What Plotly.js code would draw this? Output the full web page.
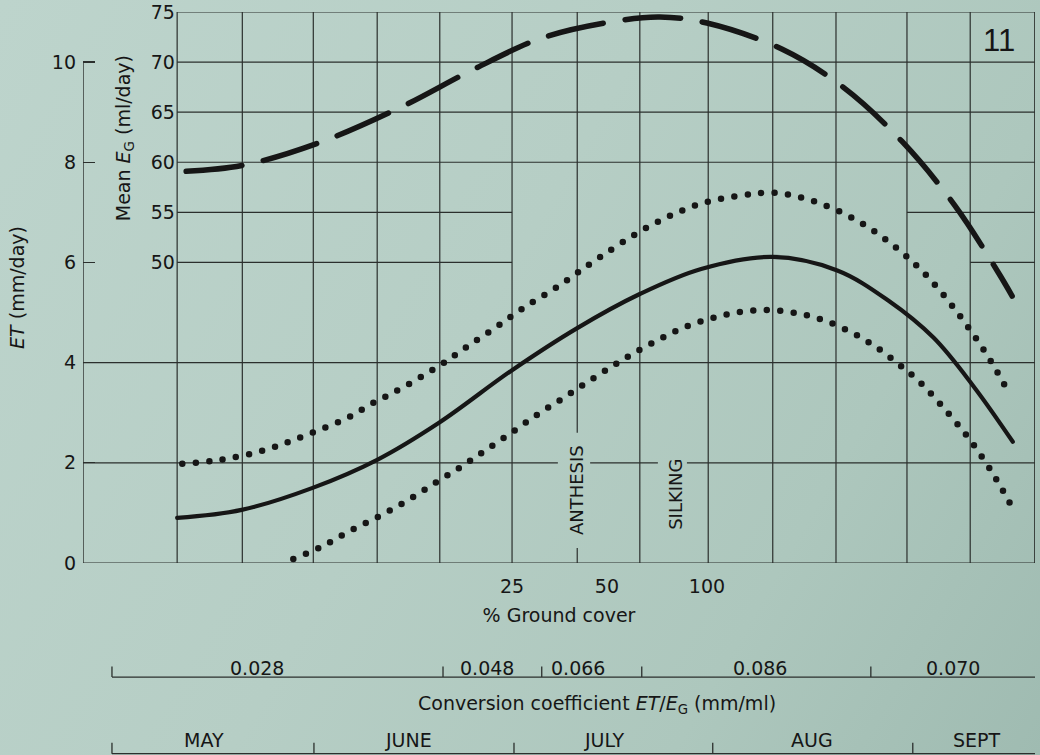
<!DOCTYPE html>
<html>
<head>
<meta charset="utf-8">
<script src="https://cdn.plot.ly/plotly-3.0.1.min.js"></script>
<style>
  html, body { margin: 0; padding: 0; }
  body { width: 1040px; height: 755px; overflow: hidden;
         background: linear-gradient(120deg, #bdd4cc 0%, #b6cec5 45%, #adc7bd 75%, #9fbbb1 100%); }
  #chart { width: 1040px; height: 755px; }
  .scatterlayer .js-line { stroke-linecap: round; stroke-linejoin: round; }
</style>
</head>
<body>
<div id="chart"></div>
<script>
// ---- x axis: days after 1 May ----
const gridDay = [9.8, 19.9, 30.9, 40.8, 50.5, 61.7, 71.8, 81.5, 92.1, 102.1, 111.9, 122.9, 132.7, 142.7];

// ground cover (%) labels
const coverLabels = ['25', '50', '100'];
const coverDay = [61.7, 76.4, 91.9];

// conversion coefficient ET/EG periods
const convValues = ['0.028', '0.048', '0.066', '0.086', '0.070'];
const convStartDay = [-0.3, 51.0, 66.3, 81.8, 117.3];
const convLabelDay = [22.2, 57.8, 71.9, 100.1, 130.0];

// months
const monthNames = ['MAY', 'JUNE', 'JULY', 'AUG', 'SEPT'];
const monthStartDay = [-0.3, 31.0, 62.0, 92.8, 123.8];
const monthLabelDay = [14.0, 45.6, 76.1, 108.2, 133.7];

// stages
const stageNames = ['ANTHESIS', 'SILKING'];
const stageDay = [71.8, 87.1];
const stageY = [1.46, 1.38];

// y ticks
const etTicks = [0, 2, 4, 6, 8, 10];
const egTicks = [50, 55, 60, 65, 70, 75];

// Mean EG (ml/day) - long dashed curve
const egDay = [11.2, 20.0, 32.0, 44.8, 55.5, 66.3, 76.9, 84.6, 91.9, 103.5, 113.0, 122.1, 130.3, 137.0, 139.2];
const egVal = [59.1, 59.7, 62.0, 65.6, 69.2, 72.4, 74.0, 74.5, 73.9, 71.3, 67.5, 62.1, 55.7, 49.05, 46.65];

// ET (mm/day) - solid mean curve
const etDay = [9.8, 19.8, 30.8, 40.8, 50.5, 61.7, 71.8, 81.5, 91.0, 102.1, 112.1, 120.0, 127.0, 133.2, 139.3];
const etVal = [0.90, 1.06, 1.50, 2.06, 2.81, 3.85, 4.69, 5.37, 5.87, 6.11, 5.84, 5.24, 4.50, 3.53, 2.42];

// ET upper bound - dotted
const upDay = [10.6, 16.6, 23.0, 27.1, 31.5, 36.1, 40.1, 44.3, 50.8, 54.6, 58.8, 63.2, 68.9, 74.9, 82.8, 90.4, 97.8, 102.4, 108.3, 114.7, 120.3, 125.7, 131.0, 135.8, 138.7];
const upVal = [1.98, 2.06, 2.24, 2.42, 2.64, 2.89, 3.19, 3.47, 3.97, 4.31, 4.67, 5.07, 5.53, 6.07, 6.71, 7.15, 7.35, 7.39, 7.23, 6.87, 6.39, 5.77, 4.95, 4.05, 3.39];

// ET lower bound - dotted
const loDay = [27.8, 32.1, 36.3, 40.9, 45.4, 49.8, 53.8, 57.7, 61.8, 65.7, 69.6, 73.6, 77.5, 81.1, 84.9, 88.5, 92.7, 96.9, 101.2, 105.7, 109.9, 114.2, 117.9, 121.4, 124.9, 129.3, 133.0, 136.7, 138.9];
const loVal = [0.08, 0.32, 0.62, 0.92, 1.24, 1.60, 1.92, 2.26, 2.62, 2.97, 3.29, 3.63, 3.95, 4.23, 4.49, 4.71, 4.89, 5.01, 5.05, 4.99, 4.85, 4.61, 4.33, 3.99, 3.61, 2.99, 2.40, 1.68, 1.18];

// ---------------- drawing ----------------
const INK = '#161616';
const GRID = '#2b2f2d';
const FONT = 'DejaVu Sans, Verdana, sans-serif';
const X0 = -4.79, X1 = 142.74;

const traces = [
  { x: egDay, y: egVal, yaxis: 'y2', mode: 'lines', hoverinfo: 'skip',
    line: { color: INK, width: 5.5, dash: '56px,22px', shape: 'spline', smoothing: 1 } },
  { x: etDay, y: etVal, mode: 'lines', hoverinfo: 'skip',
    line: { color: INK, width: 4.2, shape: 'spline', smoothing: 1 } },
  { x: upDay, y: upVal, mode: 'lines', hoverinfo: 'skip',
    line: { color: INK, width: 6.5, dash: '0px,13.5px', shape: 'spline', smoothing: 1 } },
  { x: loDay, y: loVal, mode: 'lines', hoverinfo: 'skip',
    line: { color: INK, width: 6.5, dash: '0px,13.5px', shape: 'spline', smoothing: 1 } }
];

const shapes = [];
function seg(x0, y0, x1, y1, xref, yref, w) {
  shapes.push({ type: 'line', xref: xref, yref: yref, x0: x0, y0: y0, x1: x1, y1: y1,
    layer: 'below', line: { color: GRID, width: w || 1.2 } });
}
// vertical grid lines (the anthesis line is broken around its label)
gridDay.forEach((d, i) => {
  if (i === 6) { seg(d, 0, d, 0.30, 'x', 'y'); seg(d, 2.6, d, 11, 'x', 'y'); }
  else seg(d, 0, d, 11, 'x', 'y');
});
// horizontal ET grid lines across whole width
[0, 4].forEach(v => seg(X0, v, X1, v, 'x', 'y'));
seg(X0, 2, 68.8, 2, 'x', 'y');
seg(73.8, 2, 84.3, 2, 'x', 'y');
seg(88.8, 2, X1, 2, 'x', 'y');
// upper grid (EG region) starting at first grid column
[8, 9, 10, 11].forEach(v => seg(gridDay[0], v, X1, v, 'x', 'y'));
seg(gridDay[0], 7, gridDay[5], 7, 'x', 'y');
seg(gridDay[11], 7, X1, 7, 'x', 'y');
seg(gridDay[0], 6, gridDay[5], 6, 'x', 'y');
seg(gridDay[12], 6, X1, 6, 'x', 'y');
// ET axis line
seg(X0, 0, X0, 10, 'x', 'y', 1.4);

// bottom scales
const yConvLine = -0.207, yConvTick = -0.188;
const yMonthLine = -0.346, yMonthTick = -0.326;
seg(convStartDay[0], yConvLine, 144, yConvLine, 'x', 'paper', 1.3);
convStartDay.forEach(d => seg(d, yConvLine, d, yConvTick, 'x', 'paper', 1.3));
seg(monthStartDay[0], yMonthLine, 144, yMonthLine, 'x', 'paper', 1.3);
monthStartDay.forEach(d => seg(d, yMonthLine, d, yMonthTick, 'x', 'paper', 1.3));

const annotations = [];
convValues.forEach((t, i) => annotations.push({
  x: convLabelDay[i], y: -0.19, xref: 'x', yref: 'paper', text: t, showarrow: false,
  font: { family: FONT, size: 19, color: INK }, xanchor: 'center', yanchor: 'middle'
}));
monthNames.forEach((t, i) => annotations.push({
  x: monthLabelDay[i], y: -0.321, xref: 'x', yref: 'paper', text: t, showarrow: false,
  font: { family: FONT, size: 19, color: INK }, xanchor: 'center', yanchor: 'middle'
}));
annotations.push({
  x: 74.8, y: -0.256, xref: 'x', yref: 'paper', xanchor: 'center', yanchor: 'middle', showarrow: false,
  text: 'Conversion coefficient <i>ET</i>/<i>E</i><sub>G</sub> (mm/ml)',
  font: { family: FONT, size: 19, color: INK }
});
annotations.push({
  x: 0.0431, y: 0.771, xref: 'paper', yref: 'paper', xanchor: 'center', yanchor: 'middle',
  showarrow: false, textangle: -90,
  text: 'Mean <i>E</i><sub>G</sub> (ml/day)', font: { family: FONT, size: 19, color: INK }
});
annotations.push({
  x: 137.2, y: 10.44, xref: 'x', yref: 'y', xanchor: 'center', yanchor: 'middle',
  showarrow: false, text: '11',
  font: { family: 'Liberation Sans, Arial, sans-serif', size: 31, color: INK }
});
stageNames.forEach((t, i) => annotations.push({
  x: stageDay[i], y: stageY[i], xref: 'x', yref: 'y', xanchor: 'center', yanchor: 'middle',
  showarrow: false, textangle: -90, text: t, font: { family: FONT, size: 18, color: INK }
}));

const layout = {
  width: 1040, height: 755,
  margin: { l: 83, r: 5, t: 12, b: 192 },
  paper_bgcolor: 'rgba(0,0,0,0)', plot_bgcolor: 'rgba(0,0,0,0)',
  showlegend: false,
  font: { family: FONT, color: INK },
  xaxis: {
    range: [X0, X1], showgrid: false, zeroline: false, showline: false,
    tickmode: 'array', tickvals: coverDay, ticktext: coverLabels, ticks: '',
    ticklabelstandoff: 10,
    tickfont: { family: FONT, size: 19, color: INK },
    title: { text: '% Ground cover', font: { family: FONT, size: 19, color: INK }, standoff: 12 },
    automargin: false, fixedrange: true
  },
  yaxis: {
    range: [0, 11], showgrid: false, zeroline: false, showline: false,
    tickmode: 'array', tickvals: etTicks, ticks: 'inside', ticklen: 12, tickwidth: 1.3, tickcolor: GRID,
    ticklabelstandoff: 6,
    tickfont: { family: FONT, size: 19, color: INK },
    title: { text: '<i>ET</i> (mm/day)', font: { family: FONT, size: 19, color: INK }, standoff: 22 },
    automargin: false, fixedrange: true
  },
  yaxis2: {
    range: [20, 75], overlaying: 'y', anchor: 'free', position: 0.0987, side: 'left',
    showgrid: false, zeroline: false, showline: false,
    tickmode: 'array', tickvals: egTicks, ticks: '',
    ticklabelstandoff: 2,
    tickfont: { family: FONT, size: 19, color: INK },
    automargin: false, fixedrange: true
  },
  shapes: shapes,
  annotations: annotations
};

Plotly.newPlot('chart', traces, layout, { staticPlot: true, displayModeBar: false });
</script>
</body>
</html>
